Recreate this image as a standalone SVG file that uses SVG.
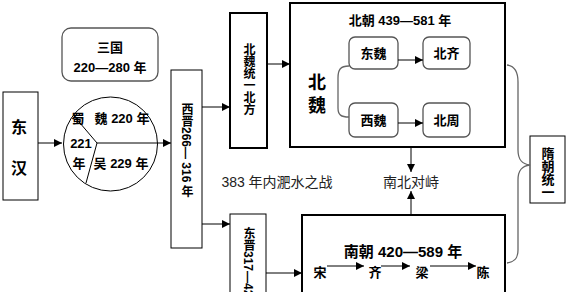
<svg xmlns="http://www.w3.org/2000/svg" width="567" height="292" viewBox="0 0 567 292">
<style>
.t{font-family:"Liberation Sans","Noto Sans CJK SC",sans-serif;font-weight:bold;fill:#000;text-anchor:middle}
.n{font-family:"Liberation Sans","Noto Sans CJK SC",sans-serif;fill:#222;text-anchor:middle}
.v{font-family:"Liberation Sans","Noto Sans CJK SC",sans-serif;font-weight:bold;fill:#000;writing-mode:vertical-rl}
.box{fill:#fff;stroke:#000;stroke-width:1}
.thick{fill:#fff;stroke:#000;stroke-width:2}
.rbox{fill:#fff;stroke:#555;stroke-width:1.3}
.ln{fill:none;stroke:#000;stroke-width:1}
.gray{fill:none;stroke:#666;stroke-width:1.3}
</style>
<defs>
<marker id="ah" viewBox="0 0 10 10" refX="10" refY="5" markerWidth="8" markerHeight="8" markerUnits="userSpaceOnUse" orient="auto">
<path d="M0,0 L10,5 L0,10 z" fill="#000"/>
</marker>
</defs>
<rect width="567" height="292" fill="#fff"/>

<g id="donghan">
<rect class="box" x="3" y="92" width="35" height="108"/>
<text class="t" x="19" y="133" font-size="16">东</text>
<text class="t" x="19" y="174" font-size="16">汉</text>
</g>

<g id="sanguo">
<rect class="rbox" x="62" y="28" width="96" height="53" rx="9"/>
<text class="t" x="110" y="52" font-size="13">三国</text>
<text class="t" x="110" y="72" font-size="13">220—280 年</text>
</g>

<g id="circle">
<circle cx="110.5" cy="144" r="47" fill="#fff" stroke="#000" stroke-width="1"/>
<path class="ln" d="M74,116 L97,143 L86,183"/>
<text class="t" x="78" y="123" font-size="13">蜀</text>
<text class="t" x="122" y="123" font-size="13">魏 220 年</text>
<text class="t" x="81" y="148" font-size="13">221</text>
<text class="t" x="79" y="168" font-size="13">年</text>
<text class="t" x="121" y="168" font-size="13">吴 229 年</text>
</g>

<g id="xijin">
<rect class="box" x="171" y="70" width="31" height="178"/>
<text class="v" x="186" y="103" font-size="12">西晋266— 316 年</text>
</g>

<g id="beiwei_tongyi">
<rect class="thick" x="230" y="13" width="37" height="135"/>
<text class="v" x="248" y="43" font-size="12">北魏统一北方</text>
</g>

<g id="dongjin">
<rect class="box" x="230" y="214" width="36" height="90"/>
<text class="v" x="248" y="227" font-size="12">东晋317—420年</text>
</g>

<g id="beichao">
<rect class="thick" x="290" y="3" width="215" height="144"/>
<text class="t" x="400" y="25" font-size="13">北朝 439—581 年</text>
<text class="t" x="317" y="89" font-size="18">北</text>
<text class="t" x="317" y="112" font-size="18">魏</text>
</g>

<g id="dongwei">
<rect class="rbox" x="349" y="37" width="49" height="32" rx="6"/>
<text class="t" x="373.5" y="58" font-size="13">东魏</text>
</g>
<g id="beiqi">
<rect class="rbox" x="423" y="37" width="47" height="32" rx="6"/>
<text class="t" x="446.5" y="58" font-size="13">北齐</text>
</g>
<g id="xiwei">
<rect class="rbox" x="349" y="103" width="49" height="34" rx="6"/>
<text class="t" x="373.5" y="125" font-size="13">西魏</text>
</g>
<g id="beizhou">
<rect class="rbox" x="423" y="103" width="47" height="34" rx="6"/>
<text class="t" x="446.5" y="125" font-size="13">北周</text>
</g>

<g id="nanchao">
<rect class="thick" x="302" y="215" width="203" height="90"/>
<text class="t" x="403" y="257" font-size="15">南朝 420—589 年</text>
<text class="t" x="320" y="277" font-size="13">宋</text>
<text class="t" x="375" y="277" font-size="13">齐</text>
<text class="t" x="422" y="277" font-size="13">梁</text>
<text class="t" x="483" y="277" font-size="13">陈</text>
</g>

<g id="nanbei">
<text class="n" x="411" y="187" font-size="14">南北对峙</text>
</g>
<g id="feishui">
<text class="n" x="277" y="187" font-size="14">383 年内淝水之战</text>
</g>

<g id="suichao">
<rect class="box" x="530" y="136" width="35" height="67"/>
<text class="v" x="547" y="147" font-size="13">隋朝统一</text>
</g>

<g id="connectors">
<line class="ln" x1="38" y1="143" x2="62" y2="143" marker-end="url(#ah)"/>
<line class="ln" x1="97" y1="143" x2="171" y2="143" marker-end="url(#ah)"/>
<line class="ln" x1="202" y1="107" x2="230" y2="107" marker-end="url(#ah)"/>
<line class="ln" x1="267" y1="64" x2="290" y2="64" marker-end="url(#ah)"/>
<line class="ln" x1="202" y1="224" x2="230" y2="224" marker-end="url(#ah)"/>
<line class="ln" x1="266" y1="273" x2="302" y2="273" marker-end="url(#ah)"/>
<path class="gray" d="M349,66 C340,66 338,70 338,78 L338,108 C338,115 341,117 349,117"/>
<line class="ln" x1="398" y1="60" x2="423" y2="60" marker-end="url(#ah)"/>
<line class="ln" x1="398" y1="123" x2="423" y2="123" marker-end="url(#ah)"/>
<line class="ln" x1="411" y1="148" x2="411" y2="172" marker-end="url(#ah)"/>
<line class="ln" x1="411" y1="215" x2="411" y2="191" marker-end="url(#ah)"/>
<line class="ln" x1="327" y1="266" x2="364" y2="266" marker-end="url(#ah)"/>
<line class="ln" x1="381" y1="266" x2="410" y2="266" marker-end="url(#ah)"/>
<line class="ln" x1="430" y1="266" x2="476" y2="266" marker-end="url(#ah)"/>
<path class="gray" d="M507,65 C515,66 518,72 518,82 L518,150 C518,160 522,164 530,165 C522,166 518,170 518,180 L518,250 C518,258 515,262 507,263"/>
</g>
</svg>
